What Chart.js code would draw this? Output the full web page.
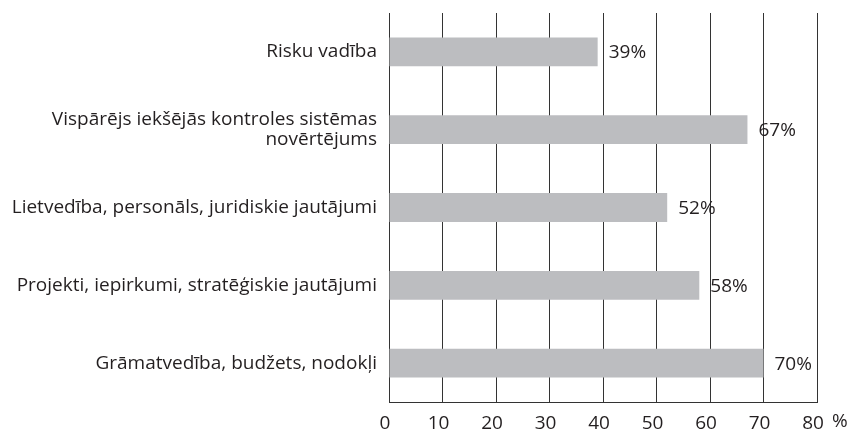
<!DOCTYPE html>
<html>
<head>
<meta charset="utf-8">
<script src="https://cdn.jsdelivr.net/npm/chart.js@4/dist/chart.umd.min.js"></script>
<style>
html,body{margin:0;padding:0;background:#fff;overflow:hidden;}
canvas{display:block;}
</style>
</head>
<body>
<canvas id="c" width="852" height="431" style="width:852px;height:431px"></canvas>
<script>
const categories = [
  "Risku vadība",
  ["Vispārējs iekšējās kontroles sistēmas", "novērtējums"],
  "Lietvedība, personāls, juridiskie jautājumi",
  "Projekti, iepirkumi, stratēģiskie jautājumi",
  "Grāmatvedība, budžets, nodokļi"
];
const values = [39, 67, 52, 58, 70];
const xTicks = [0, 10, 20, 30, 40, 50, 60, 70, 80];
const unitLabel = "%";

const FONT = "'Open Sans', 'DejaVu Sans', sans-serif";
const TEXT = "#231f20";
const TICK_PAD = 10;

const labelPlugin = {
  id: 'valLabels',
  afterDatasetsDraw(chart) {
    const ctx = chart.ctx;
    const meta = chart.getDatasetMeta(0);
    ctx.save();
    ctx.font = "19px " + FONT;
    ctx.fillStyle = TEXT;
    ctx.textAlign = 'left';
    ctx.textBaseline = 'middle';
    meta.data.forEach((bar, i) => {
      ctx.fillText(values[i] + "%", bar.x + 11, bar.y + 1);
    });
    const xs = chart.scales.x;
    ctx.font = "19px " + FONT;
    ctx.textBaseline = 'top';
    ctx.fillText(unitLabel, xs.getPixelForValue(xTicks[xTicks.length - 1]) + 15, xs.top + TICK_PAD);
    ctx.restore();
  }
};

function zeroPad(scale) {
  scale.paddingTop = 0; scale.paddingBottom = 0;
  scale.paddingLeft = 0; scale.paddingRight = 0;
}

new Chart(document.getElementById('c'), {
  type: 'bar',
  data: {
    labels: categories,
    datasets: [{
      data: values,
      backgroundColor: '#bcbdc0',
      borderWidth: 0,
      barPercentage: 1,
      categoryPercentage: 0.37
    }]
  },
  options: {
    indexAxis: 'y',
    responsive: false,
    animation: false,
    devicePixelRatio: 1,
    layout: { padding: { top: 13, right: 35, left: 0, bottom: 0 } },
    plugins: { legend: { display: false }, tooltip: { enabled: false } },
    scales: {
      x: {
        min: 0, max: 80,
        afterBuildTicks(scale) { scale.ticks = xTicks.map(v => ({ value: v })); },
        afterFit(scale) { scale.height = 29; zeroPad(scale); },
        grid: { color: '#333333', lineWidth: 1, drawTicks: false },
        border: { display: true, color: '#333333' },
        ticks: { color: TEXT, font: { family: FONT, size: 19 }, padding: TICK_PAD, maxRotation: 0, labelOffset: -4 }
      },
      y: {
        afterFit(scale) { scale.width = 389; zeroPad(scale); },
        grid: { display: false, drawTicks: false },
        border: { display: true, color: '#333333' },
        ticks: { color: TEXT, font: { family: FONT, size: 19, lineHeight: 1.05 }, padding: 12 }
      }
    }
  },
  plugins: [labelPlugin]
});
</script>
</body>
</html>
